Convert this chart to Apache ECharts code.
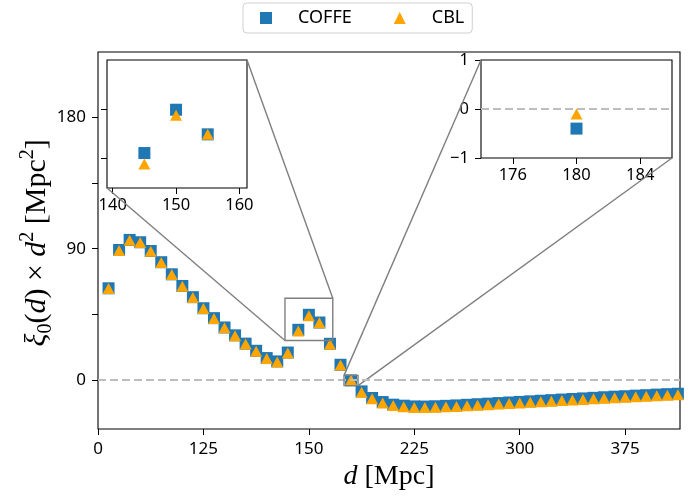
<!DOCTYPE html>
<html><head><meta charset="utf-8">
<script src="https://cdn.jsdelivr.net/npm/echarts@6/dist/echarts.min.js"></script>
<style>html,body{margin:0;padding:0;background:#fff}#c{width:696px;height:499px}</style>
</head><body><div id="c"></div>
<script>
// ---- data ----
const distances = [7.5,15,22.5,30,37.5,45,52.5,60,67.5,75,82.5,90,97.5,105,112.5,120,127.5,135,142.5,150,157.5,165,172.5,180,187.5,195,202.5,210,217.5,225,232.5,240,247.5,255,262.5,270,277.5,285,292.5,300,307.5,315,322.5,330,337.5,345,352.5,360,367.5,375,382.5,390,397.5,405,412.5];
const coffe = [62.8,89.1,96.0,94.4,88.4,80.7,72.4,64.4,56.7,49.1,42.3,35.9,30.5,24.8,19.9,14.9,12.6,18.7,34.3,44.6,39.3,24.7,10.3,-0.4,-8.0,-12.5,-15.3,-17.1,-17.8,-18.3,-18.4,-18.2,-17.9,-17.6,-17.2,-16.8,-16.4,-16.0,-15.6,-15.2,-14.8,-14.4,-14.0,-13.6,-13.2,-12.8,-12.4,-12.0,-11.6,-11.3,-10.9,-10.6,-10.2,-9.9,-9.6];
const cbl   = [62.6,88.8,95.8,94.2,88.2,80.5,72.2,64.2,56.5,48.9,42.1,35.7,30.2,24.5,19.6,14.6,12.2,18.4,33.4,44.0,39.2,24.4,10.1,-0.1,-8.6,-13.1,-15.9,-17.7,-18.5,-19.0,-19.1,-18.9,-18.6,-18.3,-17.9,-17.5,-17.1,-16.7,-16.3,-15.9,-15.5,-15.1,-14.7,-14.3,-13.9,-13.5,-13.1,-12.7,-12.3,-12.0,-11.6,-11.3,-10.9,-10.6,-10.3];
const inset1Dist = [145,150,155];
const inset1Coffe = [36.1,44.9,39.9];
const inset1Cbl = [33.9,43.8,39.9];
const inset2Dist = [180];
const inset2Coffe = [-0.4];
const inset2Cbl = [-0.1];
const xTickValues = [0,75,150,225,300,375];
const xTickLabels = ['0','125','150','225','300','375'];
const yTickValues = [0,45,90,135,180];
const yLabelValues = [0,90,180];
const inset1XTicks = [140,150,160];
const inset1YTicks = [35,45];
const inset2XTicks = [176,180,184];
const inset2YTicks = [-1,0,1];
// zoom boxes marked on the main axes
const box1 = {x:[133,167], y:[27,56]};
const box2 = {x:[175,185], y:[-4,3]};

const BLUE = '#1f77b4', ORANGE = '#ffa500';
const SANS = 'Noto Sans', SERIF = 'Liberation Serif';
const pair = (xs, ys) => xs.map((x,i)=>[x, ys[i]]);
const minus = v => v < 0 ? '\u2212' + Math.abs(v) : String(v);

const chart = echarts.init(document.getElementById('c'), null, {renderer:'canvas'});

const tickStyle = {show:true, length:6, lineStyle:{color:'#000', width:1}};
const gridBase = {show:true, borderColor:'#000', borderWidth:1.1};
const noLine = {show:false, onZero:false};

const sq = (gi, ys, xs) => ({name:'COFFE', type:'scatter', xAxisIndex:gi, yAxisIndex:gi, symbol:'rect', symbolSize:12,
  itemStyle:{color:BLUE, opacity:1}, emphasis:{disabled:true}, data:pair(xs, ys), z:3});
const tri = (gi, ys, xs) => ({name:'CBL', type:'scatter', xAxisIndex:gi, yAxisIndex:gi, symbol:'triangle', symbolSize:[12,11],
  itemStyle:{color:ORANGE, opacity:1}, emphasis:{disabled:true}, data:pair(xs, ys), z:4});
const zeroLine = gi => ({type:'line', xAxisIndex:gi, yAxisIndex:gi, data:[], z:1, silent:true,
  markLine:{symbol:'none', silent:true, label:{show:false},
    lineStyle:{color:'#bdbdbd', width:2, type:[8,4]}, data:[{yAxis:0}]}});

const option = {
  animation:false,
  backgroundColor:'#fff',
  legend:{
    left:243, top:3, orient:'horizontal',
    padding:[6,8,6,17], itemGap:42,
    itemWidth:12, itemHeight:12,
    borderColor:'#d0d0d0', borderWidth:1, borderRadius:4,
    textStyle:{fontFamily:SANS, fontSize:18, color:'#000', padding:[0,0,0,21]},
    data:[{name:'COFFE', icon:'rect', itemStyle:{color:BLUE}},{name:'CBL', icon:'triangle', itemStyle:{color:ORANGE}}]
  },
  grid:[
    Object.assign({left:98, top:52, width:582, height:377}, gridBase),
    Object.assign({left:107, top:60, width:140, height:128, backgroundColor:'#fff'}, gridBase),
    Object.assign({left:481, top:60, width:191, height:98, backgroundColor:'#fff'}, gridBase)
  ],
  xAxis:[
    {gridIndex:0, type:'value', min:0, max:414,
     axisLine:noLine, splitLine:{show:false},
     axisTick:Object.assign({customValues:xTickValues}, tickStyle),
     axisLabel:{customValues:xTickValues, margin:12, fontFamily:SANS, fontSize:17, color:'#000',
       formatter:v => xTickLabels[xTickValues.indexOf(v)]},
     name:'{i|d}{n| [Mpc]}', nameLocation:'middle', nameGap:30,
     nameTextStyle:{fontFamily:SERIF, fontSize:28, color:'#000',
       rich:{i:{fontFamily:SERIF, fontStyle:'italic', fontSize:28, color:'#000'}, n:{fontFamily:SERIF, fontSize:28, color:'#000'}}}},
    {gridIndex:1, type:'value', min:139.1, max:161.2,
     axisLine:noLine, splitLine:{show:false},
     axisTick:Object.assign({customValues:inset1XTicks}, tickStyle),
     axisLabel:{customValues:inset1XTicks, margin:9, fontFamily:SANS, fontSize:16.5, color:'#000'}},
    {gridIndex:2, type:'value', min:174, max:186,
     axisLine:noLine, splitLine:{show:false},
     axisTick:Object.assign({customValues:inset2XTicks}, tickStyle),
     axisLabel:{customValues:inset2XTicks, margin:9, fontFamily:SANS, fontSize:16.5, color:'#000'}}
  ],
  yAxis:[
    {gridIndex:0, type:'value', min:-33.8, max:225,
     axisLine:noLine, splitLine:{show:false},
     axisTick:Object.assign({customValues:yTickValues}, tickStyle),
     axisLabel:{customValues:yLabelValues, margin:12, fontFamily:SANS, fontSize:17, color:'#000'}},
    {gridIndex:1, type:'value', min:29, max:55,
     axisLine:noLine, splitLine:{show:false},
     axisTick:Object.assign({customValues:inset1YTicks}, tickStyle),
     axisLabel:{show:false}},
    {gridIndex:2, type:'value', min:-1, max:1,
     axisLine:noLine, splitLine:{show:false},
     axisTick:Object.assign({customValues:inset2YTicks}, tickStyle),
     axisLabel:{customValues:inset2YTicks, margin:12, fontFamily:SANS, fontSize:16.5, color:'#000', formatter:minus}}
  ],
  series:[
    zeroLine(0), zeroLine(2),
    sq(0, coffe, distances), tri(0, cbl, distances),
    sq(1, inset1Coffe, inset1Dist), tri(1, inset1Cbl, inset1Dist),
    sq(2, inset2Coffe, inset2Dist), tri(2, inset2Cbl, inset2Dist)
  ]
};
chart.setOption(option);

// zoom-box rectangles, connector lines and y-axis title, positioned through the axes
function px(gi, x, y){ return chart.convertToPixel({xAxisIndex:gi, yAxisIndex:gi}, [x, y]); }
const GRAY = '#7f7f7f';
const els = [];
function boxRect(b){
  const p1 = px(0, b.x[0], b.y[1]), p2 = px(0, b.x[1], b.y[0]);
  els.push({type:'rect', z:5, shape:{x:p1[0], y:p1[1], width:p2[0]-p1[0], height:p2[1]-p1[1]},
    style:{fill:null, stroke:GRAY, lineWidth:1.4}});
  return {l:p1[0], t:p1[1], r:p2[0], b:p2[1]};
}
const r1 = boxRect(box1), r2 = boxRect(box2);
const i1tr = px(1, 161.2, 55), i1bl = px(1, 139.1, 29);
const i2tl = px(2, 174, 1), i2br = px(2, 186, -1);
function seg(a, b){
  els.push({type:'line', z:1, shape:{x1:a[0], y1:a[1], x2:b[0], y2:b[1]}, style:{stroke:GRAY, lineWidth:1.4}});
}
seg(i1tr, [r1.r, r1.t]);
seg(i1bl, [r1.l, r1.b]);
seg(i2tl, [r2.l, r2.t]);
seg(i2br, [r2.r, r2.b]);
// y-axis title
const yc = px(0, 0, 94)[1];
els.push({type:'text', x:37, y:yc, rotation:Math.PI/2, z:10,
  style:{
    text:'{i|\u03be}{sub|0}{n|(}{i|d}{n|) \u00d7 }{i|d}{sup|2}{n| [Mpc}{sup|2}{n|]}',
    align:'center', verticalAlign:'middle', fill:'#000',
    font:'30px "Liberation Serif"',
    rich:{
      i:{fontFamily:SERIF, fontStyle:'italic', fontSize:30, lineHeight:38, fill:'#000'},
      n:{fontFamily:SERIF, fontSize:30, lineHeight:38, fill:'#000'},
      sup:{fontFamily:SERIF, fontSize:20, lineHeight:38, verticalAlign:'top', fill:'#000'},
      sub:{fontFamily:SERIF, fontSize:20, lineHeight:38, verticalAlign:'bottom', fill:'#000'}
    }}});
chart.setOption({graphic:{elements:els}});
</script>
</body></html>
